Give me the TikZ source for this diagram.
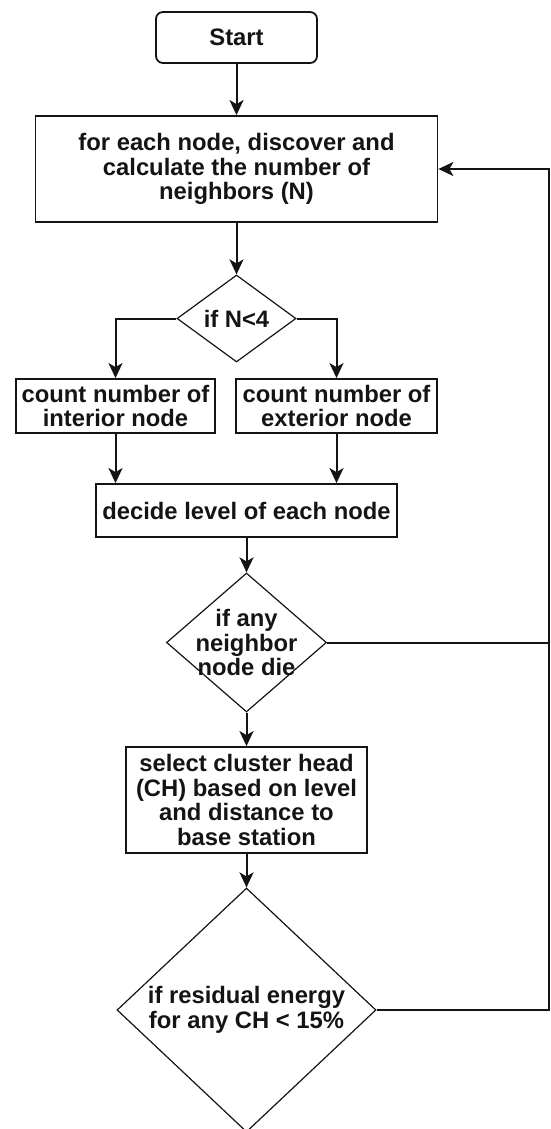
\documentclass[tikz,border=0pt]{standalone}
\usepackage{fontspec}
\setmainfont{Liberation Sans}
\usetikzlibrary{shapes.geometric,arrows.meta}
\tikzset{
  chart/.style={
    x=1pt,
    y=-1pt,
    font=\bfseries\fontsize{23.8}{24.5}\selectfont,
    text=chartink
  },
  box/.style={
    draw=chartink,
    line width=1.8pt,
    align=center,
    inner sep=0pt
  },
  box-start/.style={box, rounded corners=7pt},
  box-test/.style={
    diamond,
    draw=chartink,
    line width=1.2pt,
    inner sep=0pt,
    label={[align=center]center:#1}
  },
  flow-plain/.style={line width=2pt, draw=chartink},
  flow/.style={
    flow-plain,
    -{Stealth[length=15pt,width=14pt,inset=4pt]}
  }
}
\definecolor{chartink}{RGB}{20,20,20}

\begin{document}
\begin{tikzpicture}[chart]
  \useasboundingbox (0,0) rectangle (550,1129);
  % Steps
  \node[box-start, minimum width=161pt, minimum height=51pt] (start) at (236.5,37.5) {Start};
  \node[box, minimum width=402pt, minimum height=106pt] (neighbors) at (236.5,169) {for each node, discover and\\calculate the number of\\neighbors (N)};
  \node[box-test={if N<4}, minimum width=119pt, minimum height=87pt] (test-n) at (236.5,318.5) {};
  \node[box, minimum width=199pt, minimum height=54pt] (interior) at (115.5,406) {count number of\\interior node};
  \node[box, minimum width=201pt, minimum height=54pt] (exterior) at (336.5,406) {count number of\\exterior node};
  \node[box, minimum width=301pt, minimum height=53pt] (level) at (246.5,510.5) {decide level of each node};
  \node[box-test={if any\\neighbor\\node die}, minimum width=160pt, minimum height=139pt] (test-die) at (246.5,642.5) {};
  \node[box, minimum width=241pt, minimum height=106pt] (head) at (246.5,800) {select cluster head\\(CH) based on level\\and distance to\\base station};
  \node[box-test={if residual energy\\for any CH < 15\%}, minimum width=259pt, minimum height=244pt] (test-energy) at (246.5,1010) {};
  \coordinate (rail) at (549,1010);
  % Connectors
  \draw[flow] (start) -- (neighbors);
  \draw[flow] (neighbors) -- (test-n);
  \draw[flow] (test-n.west) -| (interior.north);
  \draw[flow] (test-n.east) -| (exterior.north);
  \draw[flow] (interior.south) -- (interior.south |- level.north);
  \draw[flow] (exterior.south) -- (exterior.south |- level.north);
  \draw[flow] (level) -- (test-die);
  \draw[flow] (test-die) -- (head);
  \draw[flow] (head) -- (test-energy);
  % Loop back
  \draw[flow-plain] (test-die.east) -- (test-die.east -| rail);
  \draw[flow] (test-energy.east) -- (rail) |- (neighbors.east);
\end{tikzpicture}
\end{document}
